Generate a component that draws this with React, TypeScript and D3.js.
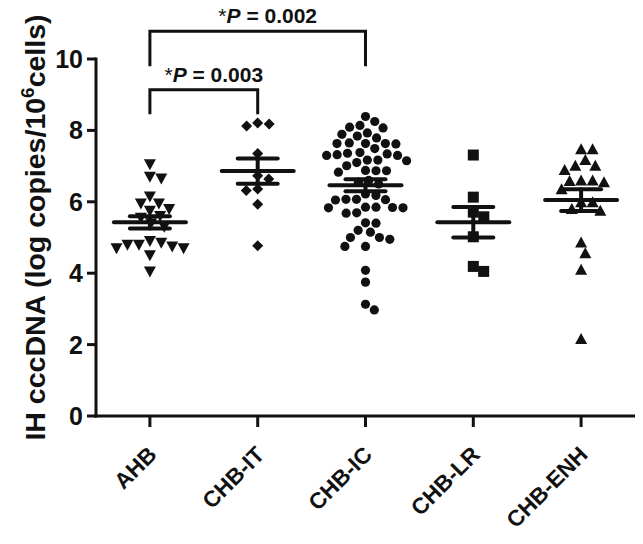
import React from "react";
import * as d3 from "d3";

// groups on the x axis
const groups = ["AHB", "CHB-IT", "CHB-IC", "CHB-LR", "CHB-ENH"];
const shapes = ["triangleDown", "diamond", "circle", "square", "triangleUp"];

// IH cccDNA, log copies / 10^6 cells
const ahb = [7.05, 6.7, 6.65, 6.15, 5.95, 5.95, 5.8, 5.75, 5.6, 5.55, 5.4, 5.3, 4.9, 4.85, 4.8, 4.8, 4.75, 4.7, 4.7, 4.5, 4.05];
const chbIT = [8.18, 8.12, 8.21, 7.35, 6.73, 6.64, 6.32, 6.36, 5.93, 4.77];
const chbIC = [
  8.39, 8.25, 8.14, 8.07, 8.09, 7.93, 7.89, 7.84, 7.79,
  7.63, 7.63, 7.65, 7.62, 7.63, 7.49, 7.38,
  7.32, 7.3, 7.3, 7.34, 7.36, 7.15, 7.17, 7.17, 7.1, 7.01,
  6.87, 6.88, 6.87, 6.83, 6.6, 6.55, 6.5, 6.22, 6.18,
  6.07, 6.06, 6.05, 6.07, 5.85, 5.83, 5.83, 5.84, 5.85,
  5.69, 5.68, 5.4, 5.41, 5.15, 5.2, 5.0, 4.95, 5.0,
  4.75, 4.75, 4.08, 3.75, 3.13, 2.97,
];
const chbLR = [7.31, 6.13, 5.71, 5.58, 5.02, 4.05, 4.19];
const chbENH = [7.47, 7.47, 7.17, 7.01, 7.01, 6.89, 6.6, 6.58, 6.6, 6.55, 6.35, 5.99, 5.99, 5.8, 5.75, 4.86, 4.56, 4.1, 2.16];
const allValues = [ahb, chbIT, chbIC, chbLR, chbENH];

const yTicks = [0, 2, 4, 6, 8, 10];

// significance brackets: from group, to group, bracket top, leg bottom, label
const bracketFrom = ["AHB", "AHB"];
const bracketTo = ["CHB-IC", "CHB-IT"];
const bracketTop = [10.78, 9.14];
const bracketLeg = [9.8, 8.45];
const bracketP = ["0.002", "0.003"];

const font = "Arial, 'Liberation Sans', sans-serif";

// simple beeswarm: place each point at the smallest offset that does not overlap
function swarm(ys: number[], d: number): number[] {
  const order = d3.range(ys.length).sort((a, b) => ys[a] - ys[b]);
  const xs = new Array(ys.length).fill(0);
  const placed: number[] = [];
  order.forEach((i) => {
    const cands = [0];
    placed.forEach((j) => {
      const dy = ys[i] - ys[j];
      if (Math.abs(dy) < d) {
        const dx = Math.sqrt(d * d - dy * dy);
        cands.push(xs[j] + dx + 0.01, xs[j] - dx - 0.01);
      }
    });
    cands.sort((a, b) => Math.abs(a) - Math.abs(b) || b - a);
    const ok = cands.find((c) =>
      placed.every((j) => (c - xs[j]) ** 2 + (ys[i] - ys[j]) ** 2 >= d * d - 0.5)
    );
    xs[i] = ok ?? 0;
    placed.push(i);
  });
  return xs;
}

function Marker({ shape, x, y }: { shape: string; x: number; y: number }) {
  if (shape === "circle") return <circle cx={x} cy={y} r={4.6} fill="#111" />;
  if (shape === "square") return <rect x={x - 5.5} y={y - 5.5} width={11} height={11} fill="#111" />;
  if (shape === "diamond")
    return <path d={`M${x},${y - 5.5}L${x + 5.5},${y}L${x},${y + 5.5}L${x - 5.5},${y}Z`} fill="#111" />;
  if (shape === "triangleDown")
    return <path d={`M${x - 6},${y - 5}L${x + 6},${y - 5}L${x},${y + 6}Z`} fill="#111" />;
  return <path d={`M${x - 6},${y + 5}L${x + 6},${y + 5}L${x},${y - 6}Z`} fill="#111" />;
}

export default function App() {
  const width = 643;
  const height = 544;
  const left = 96;
  const right = 635;
  const bottom = 416;
  const top = 59;

  const x = d3.scalePoint<string>().domain(groups).range([left, right]).padding(0.5);
  const y = d3.scaleLinear().domain([0, 10]).range([bottom, top]);

  const ink = "#111";

  return (
    <svg
      width={width}
      height={height}
      style={{ position: "absolute", left: 0, top: 0, background: "#fff" }}
      fontFamily={font}
    >
      {/* points */}
      {allValues.map((vals, gi) => {
        const cx = x(groups[gi])!;
        const ys = vals.map((v) => y(v));
        const offs = swarm(ys, gi === 2 ? 10.5 : 11.5);
        return (
          <g key={groups[gi]}>
            {vals.map((v, i) => (
              <Marker key={i} shape={shapes[gi]} x={cx + offs[i]} y={ys[i]} />
            ))}
          </g>
        );
      })}

      {/* mean and SEM */}
      {allValues.map((vals, gi) => {
        const cx = x(groups[gi])!;
        const m = d3.mean(vals)!;
        const sem = d3.deviation(vals)! / Math.sqrt(vals.length);
        return (
          <g key={"m" + gi} stroke={ink} strokeWidth={4} strokeLinecap="round">
            <line x1={cx - 36} x2={cx + 36} y1={y(m)} y2={y(m)} />
            <line x1={cx} x2={cx} y1={y(m + sem)} y2={y(m - sem)} />
            <line x1={cx - 20} x2={cx + 20} y1={y(m + sem)} y2={y(m + sem)} />
            <line x1={cx - 20} x2={cx + 20} y1={y(m - sem)} y2={y(m - sem)} />
          </g>
        );
      })}

      {/* y axis */}
      <g stroke={ink} strokeWidth={3}>
        <line x1={left} x2={left} y1={top - 1.5} y2={bottom + 1.5} />
        {yTicks.map((t) => (
          <line key={t} x1={left - 9} x2={left} y1={y(t)} y2={y(t)} />
        ))}
      </g>
      {yTicks.map((t) => (
        <text
          key={"l" + t}
          x={left - 13}
          y={y(t)}
          dy="0.36em"
          textAnchor="end"
          fontSize={25}
          fontWeight="bold"
          fill={ink}
        >
          {t}
        </text>
      ))}
      <text
        transform={`translate(45,${(top + bottom) / 2 - 10}) rotate(-90)`}
        textAnchor="middle"
        fontSize={28.5}
        fontWeight="bold"
        fill={ink}
      >
        IH cccDNA (log copies/10
        <tspan dy={-11} fontSize={19}>
          6
        </tspan>
        <tspan dy={11}>cells)</tspan>
      </text>

      {/* x axis */}
      <g stroke={ink} strokeWidth={3}>
        <line x1={left - 1.5} x2={right} y1={bottom} y2={bottom} />
        {groups.map((g) => (
          <line key={g} x1={x(g)} x2={x(g)} y1={bottom} y2={bottom + 11} />
        ))}
      </g>
      {groups.map((g) => (
        <text
          key={"x" + g}
          transform={`translate(${x(g)! + 8},${bottom + 40}) rotate(-45)`}
          textAnchor="end"
          fontSize={22.5}
          fontWeight="bold"
          fill={ink}
        >
          {g}
        </text>
      ))}

      {/* significance brackets */}
      {bracketFrom.map((f, i) => {
        const x1 = x(f)!;
        const x2 = x(bracketTo[i])!;
        const yt = y(bracketTop[i]);
        const yl = y(bracketLeg[i]);
        return (
          <g key={"b" + i}>
            <path
              d={`M${x1},${yl}V${yt}H${x2}V${yl}`}
              fill="none"
              stroke={ink}
              strokeWidth={3}
            />
            <text
              x={(x1 + x2) / 2 + 10}
              y={yt - 8}
              textAnchor="middle"
              fontSize={21}
              fontWeight="bold"
              fill={ink}
            >
              <tspan fontWeight="normal">*</tspan>
              <tspan fontStyle="italic">P</tspan>
              {" = " + bracketP[i]}
            </text>
          </g>
        );
      })}
    </svg>
  );
}
